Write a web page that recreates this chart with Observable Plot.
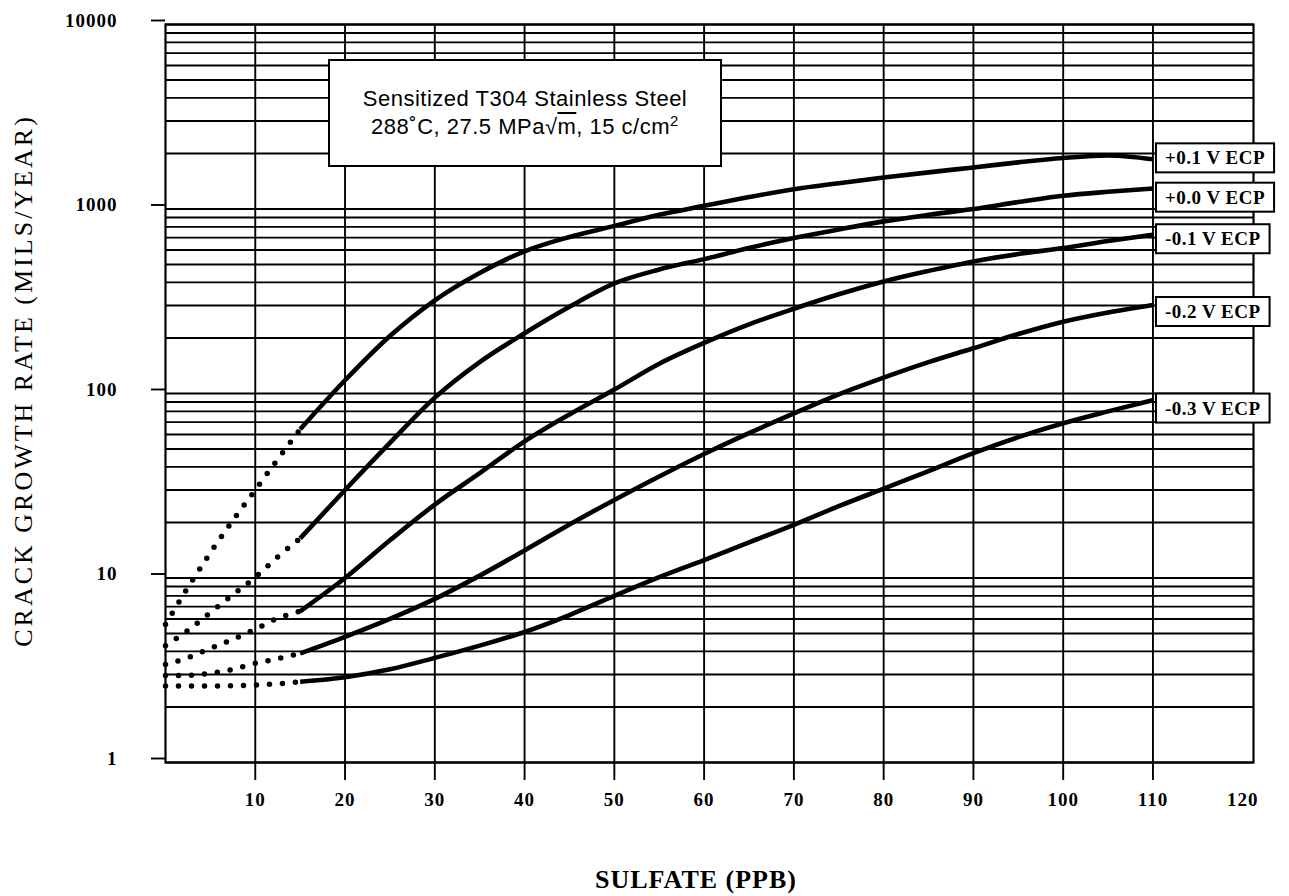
<!DOCTYPE html>
<html>
<head>
<meta charset="utf-8">
<script src="https://cdn.jsdelivr.net/npm/d3@7"></script>
<script src="https://cdn.jsdelivr.net/npm/@observablehq/plot@0.6"></script>
<style>
  html, body { margin: 0; padding: 0; background: #fff; }
  #wrap { position: relative; width: 1289px; height: 896px; background: #fff; }
  #wrap svg { display: block; }
  svg g[aria-label$="tick label"] text {
    font-family: "Liberation Serif", "Times New Roman", serif !important;
    font-size: 19px !important;
    font-weight: bold !important;
    letter-spacing: 1px;
    fill: #000;
  }
  .note {
    position: absolute; left: 328px; top: 59px; width: 394px; height: 108px;
    box-sizing: border-box; border: 2px solid #000; background: #fff;
    font-family: "Liberation Sans", Arial, Helvetica, sans-serif; font-size: 22px;
    letter-spacing: 0.5px; color: #000; text-align: center;
    display: flex; flex-direction: column; justify-content: center; line-height: 28px;
  }
  .note sup { font-size: 15px; line-height: 0; vertical-align: 8px; }
  .note .ov { text-decoration: overline; }
</style>
</head>
<body>
<div id="wrap"></div>
<script>
// ---------- data ----------
const sulfate = [0, 2.5, 5, 7.5, 10, 12.5, 15, 20, 25, 30, 35, 40, 45, 50, 55, 60, 65, 70, 75, 80, 85, 90, 95, 100, 105, 110];
const seriesLabels = ["+0.1 V ECP", "+0.0 V ECP", "-0.1 V ECP", "-0.2 V ECP", "-0.3 V ECP"];
const rateP01 = [5.6, 8.9, 13.7, 20.5, 30, 44, 64, 118, 205, 320, 450, 590, 705, 810, 930, 1040, 1160, 1280, 1380, 1480, 1580, 1680, 1790, 1890, 1950, 1860];
const rateP00 = [4.3, 5.2, 6.5, 8.1, 10.1, 13, 16.4, 30, 54, 95, 148, 212, 295, 395, 470, 535, 615, 696, 775, 857, 930, 1000, 1090, 1180, 1240, 1290];
const rateM01 = [3.4, 3.7, 4.15, 4.65, 5.28, 6.05, 6.6, 10, 16, 25, 37, 55, 77, 105, 145, 188, 237, 288, 345, 405, 462, 520, 570, 614, 670, 726];
const rateM02 = [2.96, 2.97, 3.05, 3.2, 3.45, 3.65, 3.9, 4.8, 6.0, 7.7, 10.3, 14.1, 19.5, 26.5, 35.5, 47, 61, 78, 99, 122, 148, 176, 210, 245, 275, 302];
const rateM03 = [2.6, 2.6, 2.6, 2.61, 2.63, 2.67, 2.74, 2.9, 3.2, 3.69, 4.3, 5.1, 6.3, 8.0, 10.1, 12.5, 15.6, 19.4, 24.5, 30.5, 38, 47.5, 58, 69, 80, 92];
const extrapolatedBelow = 15; // dotted portion of every curve
const yTicks = [1, 10, 100, 1000, 10000];
const yGrid = [1, 2, 3, 4, 5, 6, 7, 8, 9, 10, 20, 30, 40, 50, 60, 70, 80, 90, 100, 200, 300, 400, 500, 600, 700, 800, 900, 1000, 2000, 3000, 4000, 5000, 6000, 7000, 8000, 9000, 10000];
const xTicks = [10, 20, 30, 40, 50, 60, 70, 80, 90, 100, 110];
const xTickLabels = [10, 20, 30, 40, 50, 60, 70, 80, 90, 100, 110, 120];
const noteLine1 = "Sensitized T304 Stainless Steel";
const xTitle = "SULFATE (PPB)";
const yTitle = "CRACK GROWTH RATE (MILS/YEAR)";

// ---------- build tables ----------
const allRates = [rateP01, rateP00, rateM01, rateM02, rateM03];
const rows = [];
allRates.forEach((vals, i) => {
  vals.forEach((v, j) => rows.push({series: seriesLabels[i], x: sulfate[j], y: v}));
});
const dotted = rows.filter(d => d.x <= extrapolatedBelow);
const solid = rows.filter(d => d.x >= extrapolatedBelow);
const ends = allRates.map((vals, i) => ({series: seriesLabels[i], x: sulfate[sulfate.length - 1], y: vals[vals.length - 1]}));
const labelNudge = [-1, 9, 4.5, 7, 8.3];

const serif = '"Liberation Serif", "Times New Roman", serif';

const plot = Plot.plot({
  width: 1289,
  height: 896,
  marginLeft: 165,
  marginRight: 36,
  marginTop: 24,
  marginBottom: 134,
  style: {background: "#fff", color: "#000", fontFamily: serif, fontSize: "19px"},
  x: {domain: [0, 121.2], label: null},
  y: {type: "log", domain: [1, 10000], label: null},
  marks: [
    Plot.gridY(yGrid, {stroke: "#000", strokeOpacity: 1, strokeWidth: 1.9}),
    Plot.gridX(xTicks, {stroke: "#000", strokeOpacity: 1, strokeWidth: 1.9}),
    Plot.frame({stroke: "#000", strokeWidth: 2.2}),
    Plot.axisY(yTicks, {tickSize: 14, tickPadding: 34, strokeWidth: 1.9, dy: -4, tickFormat: d => String(d), label: null}),
    Plot.axisX(xTicks, {tickSize: 18, strokeWidth: 1.9, tickFormat: () => "", label: null}),
    Plot.axisX(xTickLabels, {tickSize: 0, tickPadding: 30, tickFormat: d => String(d), label: null}),
    Plot.line(dotted, {x: "x", y: "y", z: "series", curve: "monotone-x", stroke: "#000",
      strokeWidth: 5.5, strokeDasharray: "0,13", strokeLinecap: "round"}),
    Plot.line(solid, {x: "x", y: "y", z: "series", curve: "monotone-x", stroke: "#000",
      strokeWidth: 4.6, strokeLinejoin: "round", strokeLinecap: "butt"}),
    Plot.text(ends, {x: "x", y: "y", text: "series", textAnchor: "start", dx: 12,
      fontFamily: serif, fontSize: 19, fontWeight: "bold", fill: "#000"})
  ]
});

const wrap = document.getElementById("wrap");
wrap.appendChild(plot);

// nudge the end labels and give them white boxes
const svg = d3.select(plot);
svg.selectAll('g[aria-label="text"] text').each(function(_, k) {
  const t = d3.select(this);
  t.style("letter-spacing", "0.5px");
  const tr = t.attr("transform") || "";
  const m = /translate\(([-\d.e]+),\s*([-\d.e]+)\)/.exec(tr);
  if (m) {
    t.attr("transform", `translate(${+m[1]},${+m[2] + labelNudge[k]})`);
  }
  const bb = this.getBBox();
  const padX = 9, padY = 4;
  d3.select(this.parentNode).insert("rect", () => this)
    .attr("transform", t.attr("transform"))
    .attr("x", bb.x - padX).attr("y", bb.y - padY)
    .attr("width", bb.width + 2 * padX).attr("height", bb.height + 2 * padY)
    .attr("fill", "#fff").attr("stroke", "#000").attr("stroke-width", 2);
});

// axis titles
svg.append("text")
  .attr("transform", "translate(32,380.5) rotate(-90)")
  .attr("text-anchor", "middle")
  .attr("font-family", serif).attr("font-size", 26)
  .style("letter-spacing", "3px")
  .attr("fill", "#000")
  .text(yTitle);
svg.append("text")
  .attr("x", 696).attr("y", 888)
  .attr("text-anchor", "middle")
  .attr("font-family", serif).attr("font-size", 26).attr("font-weight", "bold")
  .style("letter-spacing", "1px")
  .attr("fill", "#000")
  .text(xTitle);

// annotation box
const note = document.createElement("div");
note.className = "note";
note.innerHTML = `<div>${noteLine1}</div><div>288˚C, 27.5 MPa√<span class="ov">m</span>, 15 c/cm<sup>2</sup></div>`;
wrap.appendChild(note);
</script>
</body>
</html>
